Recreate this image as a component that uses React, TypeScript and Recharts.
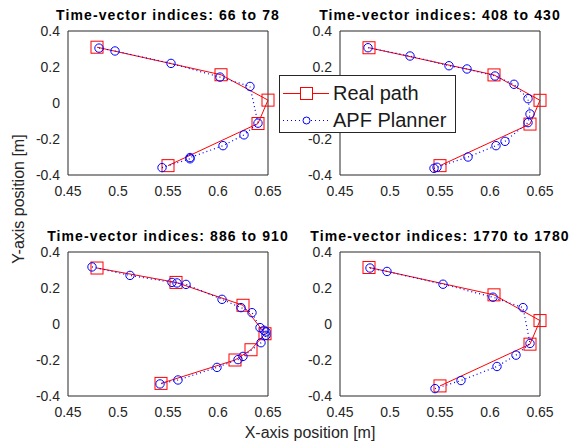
import React from 'react'
import { ScatterChart, Scatter, XAxis, YAxis, ReferenceArea, Legend } from 'recharts'

const TITLES = [
  'Time-vector indices: 66 to 78',
  'Time-vector indices: 408 to 430',
  'Time-vector indices: 886 to 910',
  'Time-vector indices: 1770 to 1780',
]
const X_TICKS = [0.45, 0.5, 0.55, 0.6, 0.65]
const Y_TICKS = [-0.4, -0.2, 0, 0.2, 0.4]
const SERIES_NAMES = ['Real path', 'APF Planner']

// panel 1: 66 to 78
const real1X = [0.479, 0.603, 0.65, 0.64, 0.55]
const real1Y = [0.31, 0.157, 0.016, -0.114, -0.348]
const apf1X = [0.481, 0.497, 0.553, 0.602, 0.632, 0.64, 0.626, 0.605, 0.572, 0.572, 0.544]
const apf1Y = [0.305, 0.289, 0.22, 0.144, 0.092, -0.112, -0.177, -0.237, -0.303, -0.31, -0.359]

// panel 2: 408 to 430
const real2X = [0.479, 0.604, 0.65, 0.64, 0.55]
const real2Y = [0.307, 0.156, 0.015, -0.117, -0.348]
const apf2X = [0.478, 0.52, 0.559, 0.577, 0.605, 0.624, 0.638, 0.64, 0.638, 0.615, 0.606, 0.578, 0.547, 0.544]
const apf2Y = [0.307, 0.261, 0.207, 0.189, 0.15, 0.104, 0.024, -0.061, -0.109, -0.213, -0.237, -0.3, -0.357, -0.363]

// panel 3: 886 to 910
const real3X = [0.479, 0.558, 0.625, 0.647, 0.633, 0.617, 0.543]
const real3Y = [0.311, 0.231, 0.104, -0.054, -0.143, -0.2, -0.33]
const apf3X = [0.474, 0.512, 0.554, 0.559, 0.568, 0.604, 0.623, 0.634, 0.642, 0.646, 0.648, 0.648, 0.643, 0.625, 0.62, 0.599, 0.56, 0.542]
const apf3Y = [0.317, 0.27, 0.231, 0.228, 0.22, 0.137, 0.091, 0.063, -0.02, -0.035, -0.044, -0.063, -0.104, -0.18, -0.198, -0.241, -0.311, -0.333]

// panel 4: 1770 to 1780
const real4X = [0.479, 0.604, 0.65, 0.64, 0.55]
const real4Y = [0.314, 0.162, 0.019, -0.112, -0.344]
const apf4X = [0.48, 0.497, 0.553, 0.603, 0.633, 0.64, 0.626, 0.607, 0.571, 0.545]
const apf4Y = [0.311, 0.292, 0.221, 0.149, 0.091, -0.108, -0.173, -0.236, -0.314, -0.359]

const RED = '#ff0000'
const BLUE = '#0000ff'
const INK = '#262626'
const FONT = '"Liberation Sans", Arial, Helvetica, sans-serif'

const zip = (xs: number[], ys: number[]) => xs.map((x, i) => ({ x, y: ys[i] }))

const SquareMarker = (props: any) => (
  <rect x={props.cx - 6} y={props.cy - 6} width={12} height={12} fill="none" stroke={RED} strokeWidth={1} />
)

const CircleMarker = (props: any) => (
  <circle cx={props.cx} cy={props.cy} r={4.2} fill="none" stroke={BLUE} strokeWidth={1} />
)

// matlab-style boxed legend
const renderLegend = () => (
  <div
    style={{
      width: 177,
      height: 58,
      boxSizing: 'border-box',
      border: `1px solid ${INK}`,
      background: '#fff',
      paddingTop: 4,
      fontFamily: FONT,
    }}
  >
    {SERIES_NAMES.map((name, i) => (
      <div key={name} style={{ display: 'flex', alignItems: 'center', height: 27 }}>
        <svg width={47} height={27} style={{ marginLeft: 3, flexShrink: 0 }}>
          <line
            x1={0}
            x2={46}
            y1={13.5}
            y2={13.5}
            stroke={i === 0 ? RED : BLUE}
            strokeWidth={1}
            strokeDasharray={i === 0 ? undefined : '1 3'}
          />
          {i === 0 ? (
            <rect x={17.5} y={7.5} width={12} height={12} fill="#fff" stroke={RED} />
          ) : (
            <circle cx={23.5} cy={13.5} r={3.5} fill="#fff" stroke={BLUE} />
          )}
        </svg>
        <span style={{ marginLeft: 3, fontSize: 20, color: '#1a1a1a', whiteSpace: 'nowrap' }}>{name}</span>
      </div>
    ))}
  </div>
)

interface PanelProps {
  title: string
  realX: number[]
  realY: number[]
  apfX: number[]
  apfY: number[]
  left: number
  top: number
  showLegend?: boolean
}

function PathPanel({ title, realX, realY, apfX, apfY, left, top, showLegend }: PanelProps) {
  const real = zip(realX, realY)
  const apf = zip(apfX, apfY)
  const tickStyle = { fill: INK, fontSize: 14, fontFamily: FONT }

  return (
    <div style={{ position: 'absolute', left, top, width: 286, height: 210 }}>
      <ScatterChart width={286} height={210} margin={{ top: 31, right: 18, bottom: 10, left: 28 }}>
        <XAxis
          type="number"
          dataKey="x"
          domain={[0.45, 0.65]}
          ticks={X_TICKS}
          tickFormatter={(v: number) => String(v)}
          axisLine={false}
          tickLine={false}
          tickMargin={5}
          height={25}
          tick={tickStyle}
        />
        <YAxis
          type="number"
          dataKey="y"
          domain={[-0.4, 0.4]}
          ticks={Y_TICKS}
          tickFormatter={(v: number) => String(v)}
          axisLine={false}
          tickLine={false}
          width={40}
          tick={tickStyle}
        />
        <ReferenceArea x1={0.45} x2={0.65} y1={-0.4} y2={0.4} fill="#fff" fillOpacity={0} stroke={INK} strokeWidth={1} />
        <Scatter
          name={SERIES_NAMES[0]}
          data={real}
          fill={RED}
          line={{ stroke: RED, strokeWidth: 1 }}
          shape={SquareMarker}
          isAnimationActive={false}
        />
        <Scatter
          name={SERIES_NAMES[1]}
          data={apf}
          fill={BLUE}
          line={{ stroke: BLUE, strokeWidth: 1.2, strokeDasharray: '1 3' }}
          shape={CircleMarker}
          isAnimationActive={false}
        />
        {showLegend && (
          <Legend
            content={renderLegend}
            layout="vertical"
            align="center"
            verticalAlign="middle"
            wrapperStyle={{ left: 7, top: 75, width: 177, height: 58 }}
          />
        )}
      </ScatterChart>
      <div
        style={{
          position: 'absolute',
          left: 18,
          top: 6,
          width: 300,
          textAlign: 'center',
          fontFamily: FONT,
          fontWeight: 'bold',
          fontSize: 14,
          letterSpacing: 1.1,
          lineHeight: '18px',
          color: '#000',
          whiteSpace: 'nowrap',
        }}
      >
        {title}
      </div>
    </div>
  )
}

export default function App() {
  return (
    <div style={{ position: 'absolute', left: 0, top: 0, width: 573, height: 445, background: '#fff', overflow: 'hidden' }}>
      <PathPanel title={TITLES[0]} realX={real1X} realY={real1Y} apfX={apf1X} apfY={apf1Y} left={0} top={0} />
      <PathPanel title={TITLES[1]} realX={real2X} realY={real2Y} apfX={apf2X} apfY={apf2Y} left={272} top={0} showLegend />
      <PathPanel title={TITLES[2]} realX={real3X} realY={real3Y} apfX={apf3X} apfY={apf3Y} left={0} top={221} />
      <PathPanel title={TITLES[3]} realX={real4X} realY={real4Y} apfX={apf4X} apfY={apf4Y} left={272} top={221} />
      <div
        style={{
          position: 'absolute',
          left: -81,
          top: 189,
          width: 200,
          height: 20,
          lineHeight: '20px',
          textAlign: 'center',
          transform: 'rotate(-90deg)',
          fontFamily: FONT,
          fontSize: 16,
          color: INK,
        }}
      >
        Y-axis position [m]
      </div>
      <div
        style={{
          position: 'absolute',
          left: 210,
          top: 423,
          width: 200,
          height: 20,
          lineHeight: '20px',
          textAlign: 'center',
          fontFamily: FONT,
          fontSize: 16,
          color: INK,
        }}
      >
        X-axis position [m]
      </div>
    </div>
  )
}
